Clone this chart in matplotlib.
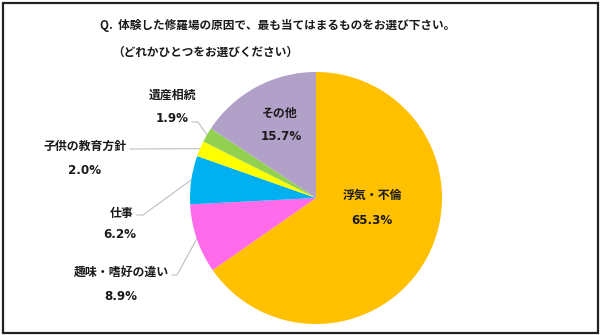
import numpy as np
import matplotlib
matplotlib.use("Agg")
import matplotlib.pyplot as plt
from matplotlib.patches import Rectangle

plt.rcParams['font.family'] = ['Noto Sans CJK JP', 'DejaVu Sans']

# ---- data ----
categories = ["浮気・不倫", "趣味・嗜好の違い", "仕事", "子供の教育方針", "遺産相続", "その他"]
values = [65.3, 8.9, 6.2, 2.0, 1.9, 15.7]
colors = ["#FFC000", "#FF6BEB", "#00B0F0", "#FFFF00", "#92D050", "#B1A0C7"]
title_line1 = "Q.  体験した修羅場の原因で、最も当てはまるものをお選び下さい。"
title_line2 = "（どれかひとつをお選びください）"

W, H = 600, 335
fig = plt.figure(figsize=(W / 100, H / 100), dpi=100)
ax = fig.add_axes([0, 0, 1, 1])
ax.set_xlim(0, W)
ax.set_ylim(0, H)
ax.set_aspect('equal')
ax.axis('off')

def Y(y):
    return H - y

cx, cy, R = 316, 198, 126
wedges, _ = ax.pie(values, colors=colors, startangle=90, counterclock=False,
                   center=(cx, Y(cy)), radius=R, frame=True,
                   wedgeprops=dict(linewidth=0))
ax.set_xlim(0, W)
ax.set_ylim(0, H)
ax.axis('off')

txt_color = "#1a1a1a"
lab_fs = 8.6
pct_fs = 8.6

# label layout: (name x, name y, pct x, pct y) in pixel coords
layout = {
    "浮気・不倫": (372, 195, 372, 220),
    "趣味・嗜好の違い": (121, 272, 121, 296),
    "仕事": (122, 213, 120, 235),
    "子供の教育方針": (85, 146, 85, 170),
    "遺産相続": (172, 95, 172, 118),
    "その他": (280, 113, 281, 137),
}
# leader line start points (pixel coords) — elbow then to wedge mid edge
leaders = {
    "趣味・嗜好の違い": [(172, 275), (177, 275)],
    "仕事": [(137, 215), (143, 215)],
    "子供の教育方針": [(130, 149)],
    "遺産相続": [(192, 122), (198, 122)],
}

for w, cat, v in zip(wedges, categories, values):
    nx, ny, px, py = layout[cat]
    ax.text(nx, Y(ny), cat, ha='center', va='center', fontsize=lab_fs,
            fontweight='bold', color=txt_color)
    ax.text(px, Y(py), f"{v:.1f}%", ha='center', va='center', fontsize=pct_fs,
            fontweight='bold', color=txt_color, family=['DejaVu Sans'])
    if cat in leaders:
        mid = np.deg2rad((w.theta1 + w.theta2) / 2)
        ex, ey = cx + R * np.cos(mid), Y(cy) + R * np.sin(mid)
        pts = [(x, Y(y)) for x, y in leaders[cat]] + [(ex, ey)]
        xs, ys = zip(*pts)
        ax.plot(xs, ys, color="#BFBFBF", lw=0.8, zorder=0.5)

ax.text(100, Y(25), title_line1, ha='left', va='center', fontsize=8.4,
        fontweight='bold', color=txt_color)
ax.text(112, Y(52), title_line2, ha='left', va='center', fontsize=8.4,
        fontweight='bold', color=txt_color)

fig.patches.append(Rectangle((2.5 / W, 2.5 / H), (W - 5) / W, (H - 5) / H,
                             transform=fig.transFigure, fill=False,
                             edgecolor="#222222", linewidth=1.6))

fig.savefig("out.png", dpi=100)
